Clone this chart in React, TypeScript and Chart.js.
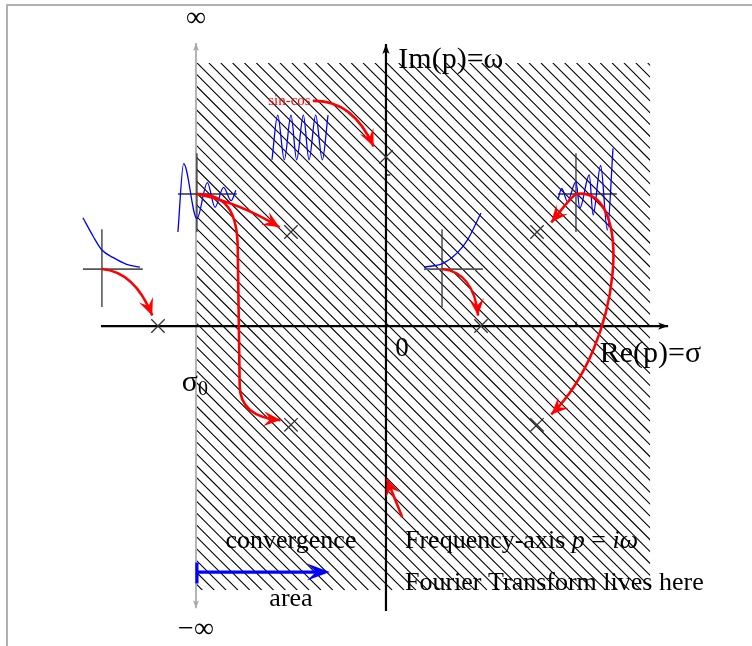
import React, { useEffect, useRef } from "react";
import { Chart, registerables } from "chart.js";

Chart.register(...registerables);

// ---------- plane extents (data units: sigma horizontally, omega vertically)
const X_BOUNDS = [-4.063, 3.853];
const Y_BOUNDS = [-3.368, 3.432];

// convergence half-plane (hatched)
const HATCH_SIGMA = [-2, 2.78];
const HATCH_OMEGA = [-2.78, 2.77];

// poles
const POLE_SIGMA = [-2.4, -1, -1, 0, 1, 1.59, 1.59];
const POLE_OMEGA = [0, 0.99, -1.04, 1.78, 0, 0.99, -1.04];

// axes
const RE_AXIS_X = [-3, 2.97];
const RE_AXIS_Y = [0, 0];
const IM_AXIS_X = [0, 0];
const IM_AXIS_Y = [-3, 2.97];
const SIGMA0_X = [-2, -2];
const SIGMA0_Y = [-2.97, 2.98];

// inset 1: decaying exponential
const DECAY_X = [-3.19, -3.08, -2.99, -2.87, -2.73, -2.59];
const DECAY_Y = [1.14, 0.94, 0.8, 0.72, 0.65, 0.62];
const DECAY_HAXIS_X = [-3.19, -2.56];
const DECAY_HAXIS_Y = [0.6, 0.6];
const DECAY_VAXIS_X = [-2.99, -2.99];
const DECAY_VAXIS_Y = [1.02, 0.2];

// inset 2: damped oscillation
const DAMPED_X = [-2.19, -2.13, -1.99, -1.88, -1.8, -1.71, -1.63, -1.58];
const DAMPED_Y = [0.99, 1.71, 1.13, 1.51, 1.25, 1.46, 1.32, 1.43];
const DAMPED_HAXIS_X = [-2.19, -1.57];
const DAMPED_HAXIS_Y = [1.39, 1.39];
const DAMPED_VAXIS_X = [-1.99, -1.99];
const DAMPED_VAXIS_Y = [1.82, 0.99];

// inset 3: sin-cos
const SINCOS_X = [-1.2, -1.14, -1.07, -1.0, -0.94, -0.87, -0.81, -0.74, -0.67, -0.61];
const SINCOS_Y = [1.75, 2.22, 1.75, 2.22, 1.75, 2.22, 1.75, 2.22, 1.75, 2.22];

// inset 4: growing oscillation
const GROWOSC_X = [1.81, 1.85, 1.91, 2.0, 2.04, 2.14, 2.18, 2.26, 2.33, 2.39];
const GROWOSC_Y = [1.33, 1.45, 1.31, 1.52, 1.24, 1.59, 1.17, 1.69, 1.01, 1.87];
const GROWOSC_HAXIS_X = [1.81, 2.43];
const GROWOSC_HAXIS_Y = [1.39, 1.39];
const GROWOSC_VAXIS_X = [2.0, 2.0];
const GROWOSC_VAXIS_Y = [1.82, 0.99];

// inset 5: growing exponential
const GROW_X = [0.4, 0.6, 0.75, 0.86, 1.0];
const GROW_Y = [0.62, 0.66, 0.77, 0.91, 1.19];
const GROW_HAXIS_X = [0.4, 1.02];
const GROW_HAXIS_Y = [0.6, 0.6];
const GROW_VAXIS_X = [0.59, 0.59];
const GROW_VAXIS_Y = [1.02, 0.2];

// small ticks
const TICK_IM_X = [0, 0.045];
const TICK_IM_Y = [1.59, 1.59];
const TICK_RE_X = [2.0, 2.0];
const TICK_RE_Y = [0, 0.045];

// red arrows (chains of cubic bezier segments: start, then c1, c2, end per segment)
const ARROW_DECAY_X = [-2.99, -2.76, -2.58, -2.46];
const ARROW_DECAY_Y = [0.6, 0.58, 0.41, 0.11];
const ARROW_DAMPED1_X = [-1.99, -1.7, -1.38, -1.12];
const ARROW_DAMPED1_Y = [1.39, 1.33, 1.2, 1.04];
const ARROW_DAMPED2_X = [-1.99, -1.68, -1.56, -1.56, -1.555, -1.545, -1.54, -1.54, -1.38, -1.11];
const ARROW_DAMPED2_Y = [1.39, 1.39, 1.2, 0.8, 0.27, -0.25, -0.62, -0.86, -0.97, -0.99];
const ARROW_SINCOS_X = [-0.77, -0.49, -0.28, -0.13];
const ARROW_SINCOS_Y = [2.37, 2.38, 2.22, 1.89];
const ARROW_GROWOSC1_X = [2.0, 1.92, 1.83, 1.74];
const ARROW_GROWOSC1_Y = [1.39, 1.33, 1.2, 1.09];
const ARROW_GROWOSC2_X = [2.0, 2.62, 2.49, 1.74];
const ARROW_GROWOSC2_Y = [1.39, 1.48, -0.2, -0.93];
const ARROW_GROW_X = [0.59, 0.8, 0.94, 0.97];
const ARROW_GROW_Y = [0.6, 0.58, 0.42, 0.11];
const ARROW_FREQ_X = [0.17, 0.12, 0.06, 0.01];
const ARROW_FREQ_Y = [-2.01, -1.88, -1.74, -1.61];

// blue "area" arrow
const AREA_ARROW_X = [-1.99, -0.59];
const AREA_ARROW_Y = [-2.59, -2.59];
const AREA_BAR_Y = [-2.49, -2.71];

// texts
const TXT_INF = "∞";
const TXT_NEG_INF = "−∞";
const TXT_IM = "Im(p)=ω";
const TXT_RE = "Re(p)=σ";
const TXT_ZERO = "0";
const TXT_SIGMA = "σ";
const TXT_SIGMA_SUB = "0";
const TXT_SINCOS = "sin-cos";
const TXT_CONV = "convergence";
const TXT_AREA = "area";
const TXT_FREQ = ["Frequency-axis ", "p", " = ", "i", "ω"];
const TXT_FOURIER = "Fourier Transform lives here";

const LBL_INF = [-2, 3.24];
const LBL_NEG_INF = [-2, -3.2];
const LBL_IM = [0.13, 2.8];
const LBL_RE = [2.25, -0.3];
const LBL_ZERO = [0.17, -0.24];
const LBL_SIGMA = [-2.15, -0.6];
const LBL_SINCOS = [-1.24, 2.37];
const LBL_CONV = [-1.0, -2.26];
const LBL_AREA = [-1.0, -2.88];
const LBL_FREQ = [0.2, -2.26];
const LBL_FOURIER = [0.2, -2.71];

const SERIF = '"Liberation Serif", "Times New Roman", Times, serif';

const zip = (xs: number[], ys: number[]) => xs.map((x, i) => ({ x, y: ys[i] }));

function lineDs(xs: number[], ys: number[], color: string, width: number, smooth = false) {
  return {
    type: "scatter" as const,
    data: zip(xs, ys),
    showLine: true,
    borderColor: color,
    backgroundColor: color,
    borderWidth: width,
    pointRadius: 0,
    pointHoverRadius: 0,
    fill: false,
    tension: 0,
    cubicInterpolationMode: smooth ? ("monotone" as const) : ("default" as const),
    clip: false as const,
  };
}

function drawHead(ctx: CanvasRenderingContext2D, tip: any, from: any, L: number, W: number, notch: number, color: string) {
  const dx = tip.x - from.x;
  const dy = tip.y - from.y;
  const len = Math.hypot(dx, dy) || 1;
  const ux = dx / len, uy = dy / len;
  const nx = -uy, ny = ux;
  ctx.beginPath();
  ctx.moveTo(tip.x, tip.y);
  ctx.lineTo(tip.x - L * ux + W * nx, tip.y - L * uy + W * ny);
  ctx.lineTo(tip.x - (1 - notch) * L * ux, tip.y - (1 - notch) * L * uy);
  ctx.lineTo(tip.x - L * ux - W * nx, tip.y - L * uy - W * ny);
  ctx.closePath();
  ctx.fillStyle = color;
  ctx.fill();
}

const diagramPlugin = {
  id: "diagram",
  beforeDatasetsDraw(chart: any) {
    const { ctx, scales } = chart;
    const sx = scales.x, sy = scales.y;
    const l = sx.getPixelForValue(HATCH_SIGMA[0]);
    const r = sx.getPixelForValue(HATCH_SIGMA[1]);
    const t = sy.getPixelForValue(HATCH_OMEGA[1]);
    const b = sy.getPixelForValue(HATCH_OMEGA[0]);
    ctx.save();
    ctx.beginPath();
    ctx.rect(l, t, r - l, b - t);
    ctx.clip();
    ctx.strokeStyle = "#000";
    ctx.lineWidth = 1.1;
    const h = b - t;
    const step = 11.86;
    ctx.beginPath();
    for (let x0 = l + 1 - Math.ceil(h / step) * step; x0 < r; x0 += step) {
      ctx.moveTo(x0, t);
      ctx.lineTo(x0 + h, b);
    }
    ctx.stroke();
    ctx.restore();
  },
  afterDatasetsDraw(chart: any) {
    const { ctx, scales } = chart;
    const sx = scales.x, sy = scales.y;
    const P = (x: number, y: number) => ({ x: sx.getPixelForValue(x), y: sy.getPixelForValue(y) });
    ctx.save();

    // axis arrowheads
    drawHead(ctx, P(RE_AXIS_X[1], RE_AXIS_Y[1]), P(RE_AXIS_X[0], RE_AXIS_Y[0]), 10, 3.6, 0.25, "#000");
    drawHead(ctx, P(IM_AXIS_X[1], IM_AXIS_Y[1]), P(IM_AXIS_X[0], IM_AXIS_Y[0]), 10, 3.6, 0.25, "#000");
    drawHead(ctx, P(SIGMA0_X[1], SIGMA0_Y[1]), P(SIGMA0_X[0], SIGMA0_Y[0]), 8, 3, 0.25, "#a8a8a8");
    drawHead(ctx, P(SIGMA0_X[0], SIGMA0_Y[0]), P(SIGMA0_X[1], SIGMA0_Y[1]), 8, 3, 0.25, "#a8a8a8");

    // red arrows
    const reds: [number[], number[]][] = [
      [ARROW_DECAY_X, ARROW_DECAY_Y],
      [ARROW_DAMPED1_X, ARROW_DAMPED1_Y],
      [ARROW_DAMPED2_X, ARROW_DAMPED2_Y],
      [ARROW_SINCOS_X, ARROW_SINCOS_Y],
      [ARROW_GROWOSC1_X, ARROW_GROWOSC1_Y],
      [ARROW_GROWOSC2_X, ARROW_GROWOSC2_Y],
      [ARROW_GROW_X, ARROW_GROW_Y],
      [ARROW_FREQ_X, ARROW_FREQ_Y],
    ];
    ctx.strokeStyle = "#ff0000";
    ctx.lineWidth = 2.6;
    ctx.lineCap = "butt";
    for (const [xs, ys] of reds) {
      const p = xs.map((x, i) => P(x, ys[i]));
      ctx.beginPath();
      ctx.moveTo(p[0].x, p[0].y);
      for (let i = 1; i + 2 < p.length; i += 3) {
        ctx.bezierCurveTo(p[i].x, p[i].y, p[i + 1].x, p[i + 1].y, p[i + 2].x, p[i + 2].y);
      }
      ctx.stroke();
      const n = p.length;
      drawHead(ctx, p[n - 1], p[n - 2], 17, 7.5, 0.4, "#ff0000");
    }

    // blue area arrow
    const a0 = P(AREA_ARROW_X[0], AREA_ARROW_Y[0]);
    const a1 = P(AREA_ARROW_X[1], AREA_ARROW_Y[1]);
    ctx.strokeStyle = "#0000ff";
    ctx.lineWidth = 3.2;
    ctx.beginPath();
    ctx.moveTo(a0.x, a0.y);
    ctx.lineTo(a1.x - 8, a1.y);
    ctx.stroke();
    const bt = P(AREA_ARROW_X[0], AREA_BAR_Y[0]);
    const bb = P(AREA_ARROW_X[0], AREA_BAR_Y[1]);
    ctx.beginPath();
    ctx.moveTo(bt.x, bt.y);
    ctx.lineTo(bb.x, bb.y);
    ctx.stroke();
    drawHead(ctx, a1, a0, 23, 8.5, 0.4, "#0000ff");

    // texts
    ctx.fillStyle = "#000";
    ctx.textBaseline = "middle";
    const txt = (s: string, pos: number[], size: number, align: CanvasTextAlign, color = "#000", italic = false) => {
      const p = P(pos[0], pos[1]);
      ctx.font = `${italic ? "italic " : ""}${size}px ${SERIF}`;
      ctx.textAlign = align;
      ctx.fillStyle = color;
      ctx.fillText(s, p.x, p.y);
    };
    txt(TXT_INF, LBL_INF, 28, "center");
    txt(TXT_NEG_INF, LBL_NEG_INF, 28, "center");
    txt(TXT_IM, LBL_IM, 30, "left");
    txt(TXT_RE, LBL_RE, 30, "left");
    txt(TXT_ZERO, LBL_ZERO, 27, "center");
    txt(TXT_SIGMA, LBL_SIGMA, 30, "left");
    {
      const p = P(LBL_SIGMA[0], LBL_SIGMA[1]);
      ctx.font = `30px ${SERIF}`;
      const w = ctx.measureText(TXT_SIGMA).width;
      ctx.font = `20px ${SERIF}`;
      ctx.textAlign = "left";
      ctx.fillText(TXT_SIGMA_SUB, p.x + w, p.y + 7);
    }
    txt(TXT_SINCOS, LBL_SINCOS, 15, "left", "#ff0000");
    txt(TXT_CONV, LBL_CONV, 26, "center");
    txt(TXT_AREA, LBL_AREA, 26, "center");
    {
      const p = P(LBL_FREQ[0], LBL_FREQ[1]);
      let x = p.x;
      ctx.textAlign = "left";
      ctx.fillStyle = "#000";
      TXT_FREQ.forEach((s, i) => {
        const italic = i === 1 || i === 3 || i === 4;
        ctx.font = `${italic ? "italic " : ""}26px ${SERIF}`;
        ctx.fillText(s, x, p.y);
        x += ctx.measureText(s).width;
      });
    }
    txt(TXT_FOURIER, LBL_FOURIER, 26, "left");
    ctx.restore();
  },
};

export default function App() {
  const ref = useRef<HTMLCanvasElement>(null);
  useEffect(() => {
    const canvas = ref.current;
    if (!canvas) return;
    const blue = "#0000ff";
    const axisInk = "#333";
    const datasets: any[] = [
      {
        type: "scatter",
        data: zip(POLE_SIGMA, POLE_OMEGA),
        pointStyle: "crossRot",
        pointRadius: 9.5,
        pointHoverRadius: 9.5,
        borderColor: "#333",
        backgroundColor: "transparent",
        pointBorderWidth: 1.3,
        borderWidth: 1.3,
        clip: false,
      },
      lineDs(DECAY_X, DECAY_Y, blue, 1.3, true),
      lineDs(DAMPED_X, DAMPED_Y, blue, 1.3, true),
      lineDs(SINCOS_X, SINCOS_Y, blue, 1.3, true),
      lineDs(GROWOSC_X, GROWOSC_Y, blue, 1.3, true),
      lineDs(GROW_X, GROW_Y, blue, 1.3, true),
      lineDs(DECAY_HAXIS_X, DECAY_HAXIS_Y, "#555", 1.8),
      lineDs(DECAY_VAXIS_X, DECAY_VAXIS_Y, axisInk, 1.3),
      lineDs(DAMPED_HAXIS_X, DAMPED_HAXIS_Y, axisInk, 1.5),
      lineDs(DAMPED_VAXIS_X, DAMPED_VAXIS_Y, axisInk, 1.3),
      lineDs(GROWOSC_HAXIS_X, GROWOSC_HAXIS_Y, axisInk, 1.5),
      lineDs(GROWOSC_VAXIS_X, GROWOSC_VAXIS_Y, axisInk, 1.3),
      lineDs(GROW_HAXIS_X, GROW_HAXIS_Y, "#555", 1.8),
      lineDs(GROW_VAXIS_X, GROW_VAXIS_Y, axisInk, 1.3),
      lineDs(TICK_IM_X, TICK_IM_Y, "#000", 1.2),
      lineDs(TICK_RE_X, TICK_RE_Y, "#000", 1.2),
      lineDs(RE_AXIS_X, RE_AXIS_Y, "#000", 2.2),
      lineDs(IM_AXIS_X, IM_AXIS_Y, "#000", 2.2),
      lineDs(SIGMA0_X, SIGMA0_Y, "#b4b4b4", 2),
    ];
    const chart = new Chart(canvas, {
      type: "scatter",
      data: { datasets },
      options: {
        responsive: false,
        animation: false,
        devicePixelRatio: 1,
        events: [],
        layout: { padding: 0, autoPadding: false },
        plugins: { legend: { display: false }, tooltip: { enabled: false } },
        scales: {
          x: { type: "linear", min: X_BOUNDS[0], max: X_BOUNDS[1], display: false },
          y: { type: "linear", min: Y_BOUNDS[0], max: Y_BOUNDS[1], display: false },
        },
      } as any,
      plugins: [diagramPlugin],
    });
    return () => chart.destroy();
  }, []);
  return (
    <div style={{ position: "fixed", left: 0, top: 0, width: 752, height: 646, overflow: "hidden", background: "#fff" }}>
      <div
        style={{
          position: "absolute",
          left: 6,
          top: 4,
          width: 900,
          height: 900,
          borderTop: "2px solid #b0b0b0",
          borderLeft: "2px solid #b0b0b0",
        }}
      />
      <canvas ref={ref} width={752} height={646} style={{ position: "absolute", left: 0, top: 0, width: 752, height: 646 }} />
    </div>
  );
}
